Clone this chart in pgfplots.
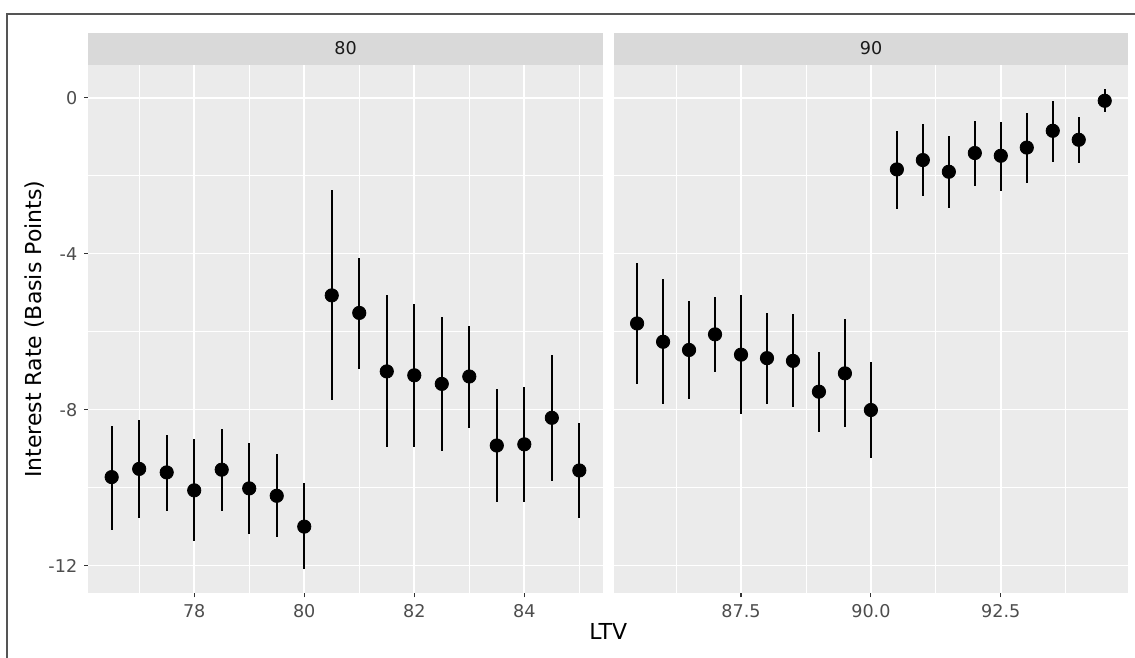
\documentclass[border=0pt]{standalone}
\usepackage{fontspec}
\setmainfont{DejaVu Sans}
\usepackage{pgfplots}
\usepackage{pgfplotstable}
\pgfplotsset{compat=1.18}
\definecolor{panelbg}{HTML}{EBEBEB}
\definecolor{stripbg}{HTML}{D9D9D9}
\definecolor{ticklab}{HTML}{4D4D4D}
\definecolor{tickc}{HTML}{333333}
\definecolor{striptext}{HTML}{1A1A1A}
\definecolor{framec}{HTML}{555555}

\pgfplotstableread{
x y lo hi
76.5 -9.73 -11.08 -8.42
77.0 -9.52 -10.78 -8.26
77.5 -9.61 -10.59 -8.65
78.0 -10.07 -11.37 -8.76
78.5 -9.54 -10.60 -8.49
79.0 -10.02 -11.19 -8.85
79.5 -10.21 -11.26 -9.15
80.0 -11.00 -12.09 -9.89
80.5 -5.07 -7.76 -2.37
81.0 -5.52 -6.95 -4.10
81.5 -7.02 -8.96 -5.07
82.0 -7.12 -8.96 -5.29
82.5 -7.34 -9.07 -5.63
83.0 -7.15 -8.48 -5.85
83.5 -8.92 -10.37 -7.48
84.0 -8.89 -10.37 -7.42
84.5 -8.21 -9.82 -6.60
85.0 -9.56 -10.79 -8.35
}\leftdata

\pgfplotstableread{
x y lo hi
85.5 -5.79 -7.34 -4.25
86.0 -6.26 -7.86 -4.65
86.5 -6.47 -7.73 -5.21
87.0 -6.07 -7.03 -5.10
87.5 -6.59 -8.12 -5.07
88.0 -6.68 -7.85 -5.51
88.5 -6.75 -7.94 -5.55
89.0 -7.54 -8.57 -6.51
89.5 -7.07 -8.44 -5.68
90.0 -8.01 -9.25 -6.78
90.5 -1.84 -2.85 -0.85
91.0 -1.60 -2.53 -0.67
91.5 -1.90 -2.82 -0.98
92.0 -1.42 -2.26 -0.59
92.5 -1.49 -2.40 -0.62
93.0 -1.28 -2.18 -0.39
93.5 -0.85 -1.64 -0.08
94.0 -1.08 -1.67 -0.50
94.5 -0.08 -0.38 0.22
}\rightdata

\pgfplotsset{
  panel/.style={
    scale only axis, width=257.2pt, height=264pt,
    anchor=south west,
    ymin=-12.71, ymax=0.83,
    ytick={-12,-8,-4,0}, minor ytick={-10,-6,-2},
    axis background/.style={fill=panelbg},
    axis line style={draw=none},
    grid=both,
    major grid style={white, line width=0.85pt},
    minor grid style={white, line width=0.45pt},
    tick align=outside, major tick length=2pt, minor tick length=0pt,
    tick pos=left,
    tick style={tickc, line width=0.55pt},
    tick label style={font=\fontsize{8.8}{10}\selectfont, text=ticklab},
    clip=false,
  },
  pr/.style={only marks, mark=*, mark size=3.33pt, black,
    mark options={fill=black, draw=black},
    error bars/.cd, y dir=both, y explicit, error mark=none,
    error bar style={line width=1pt, black}},
}

\begin{document}
\begin{tikzpicture}
\path[use as bounding box] (0,0) rectangle (567.5pt,329pt);
\draw[framec, line width=0.7pt] (3.5pt,-1pt) -- (3.5pt,322pt) -- (568pt,322pt);

\begin{axis}[panel, at={(44.15pt,32.35pt)},
  xmin=76.075, xmax=85.425,
  xtick={78,80,82,84}, xticklabels={78,80,82,84},
  minor xtick={77,79,81,83,85},
  yticklabels={-12,-8,-4,0}]
\addplot[pr] table[x=x, y=y,
  y error plus expr=\thisrow{hi}-\thisrow{y},
  y error minus expr=\thisrow{y}-\thisrow{lo}] {\leftdata};
\end{axis}

\begin{axis}[panel, at={(306.85pt,32.35pt)},
  xmin=85.05, xmax=94.95,
  xtick={87.5,90,92.5}, xticklabels={87.5,90.0,92.5},
  minor xtick={86.25,88.75,91.25,93.75},
  yticklabels={}, ytick style={draw=none}]
\addplot[pr] table[x=x, y=y,
  y error plus expr=\thisrow{hi}-\thisrow{y},
  y error minus expr=\thisrow{y}-\thisrow{lo}] {\rightdata};
\end{axis}

\fill[stripbg] (44.15pt,296.35pt) rectangle (301.35pt,312.65pt);
\fill[stripbg] (306.85pt,296.35pt) rectangle (564.15pt,312.65pt);
\node[anchor=base, text=striptext, font=\fontsize{8.8}{10}\selectfont, inner sep=0pt] at (172.75pt,301.5pt) {80};
\node[anchor=base, text=striptext, font=\fontsize{8.8}{10}\selectfont, inner sep=0pt] at (435.5pt,301.5pt) {90};

\node[anchor=base, font=\fontsize{11}{13}\selectfont, inner sep=0pt] at (304.15pt,9pt) {LTV};
\node[rotate=90, font=\fontsize{11}{13}\selectfont, inner sep=0pt] at (17.5pt,164.35pt) {Interest Rate (Basis Points)};
\end{tikzpicture}
\end{document}
